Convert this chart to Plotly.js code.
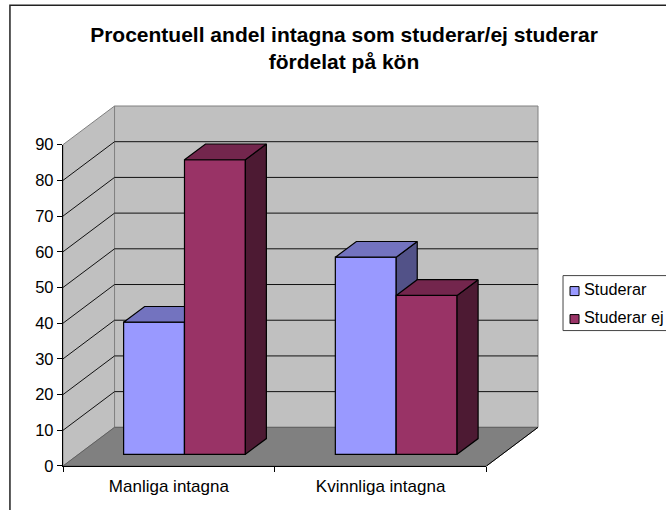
<!DOCTYPE html>
<html>
<head>
<meta charset="utf-8">
<script src="https://cdn.plot.ly/plotly-3.0.1.min.js"></script>
<style>html,body{margin:0;padding:0;background:#fff}#chart{width:666px;height:510px}</style>
</head>
<body>
<div id="chart"></div>
<script>
// Data
const categories = ['Manliga intagna', 'Kvinnliga intagna'];
const studerar = [37, 55.2];
const studerarEj = [82.5, 44.5];
const yTicks = [0, 10, 20, 30, 40, 50, 60, 70, 80, 90];
const seriesNames = ['Studerar', 'Studerar ej'];

// Colours
const frontColors = ['#9999FF', '#993366'];
const topColors = ['#7373BF', '#73264D'];
const sideColors = ['#525288', '#4D1A33'];
const wallColor = '#C0C0C0';
const floorColor = '#808080';
const font = 'Liberation Sans, Arial, sans-serif';

// Oblique projection, expressed in axis units
const wallDx = 0.2435, wallDy = 10.83;
const barDepthDx = 0.0993, barDepthDy = 4.4;
const barShiftDx = 0.0738, barBase = 3.28;
const barWidth = 0.2875;
const xMin = -0.5, xMax = 1.5, yMax = 90;
const idx = categories.map((_, i) => i);

// Page geometry of the front plane
const frontL = 63, frontR = 486, frontB = 466, frontT = 144.5;
const pxPerX = (frontR - frontL) / (xMax - xMin), pxPerY = (frontB - frontT) / yMax;
const pad = 2; // px of room so the edge lines of the walls are not clipped
const rangeX = [xMin - pad / pxPerX, xMax + wallDx + pad / pxPerX];
const rangeY = [-pad / pxPerY, yMax + wallDy + pad / pxPerY];
const plotL = frontL - pad, plotW = (rangeX[1] - rangeX[0]) * pxPerX;
const plotB = frontB + pad, plotH = (rangeY[1] - rangeY[0]) * pxPerY;
const W = 666, H = 510;
const px = v => (v - plotL) / plotW;
const py = v => (plotB - v) / plotH;

function poly(xs, ys, fill, line, xa, ya, width) {
  return {type: 'scatter', mode: 'lines', x: xs, y: ys, fill: 'toself', fillcolor: fill,
    line: {color: line, width: width || 1}, showlegend: false, hoverinfo: 'skip',
    xaxis: xa, yaxis: ya};
}

const traces = [];
// Side wall, back wall
traces.push(poly([xMin, xMin + wallDx, xMin + wallDx, xMin, xMin],
  [0, wallDy, yMax + wallDy, yMax, 0], wallColor, '#808080', 'x', 'y'));
traces.push(poly([xMin + wallDx, xMax + wallDx, xMax + wallDx, xMin + wallDx, xMin + wallDx],
  [wallDy, wallDy, yMax + wallDy, yMax + wallDy, wallDy], wallColor, '#808080', 'x', 'y'));
// Gridlines
const gx = [], gy = [];
yTicks.filter(t => t > 0 && t < yMax).forEach(t => {
  gx.push(xMin, xMin + wallDx, xMax + wallDx, null);
  gy.push(t, t + wallDy, t + wallDy, null);
});
traces.push({type: 'scatter', mode: 'lines', x: gx, y: gy, line: {color: '#111111', width: 1},
  showlegend: false, hoverinfo: 'skip', xaxis: 'x', yaxis: 'y'});
// Floor
traces.push(poly([xMin, xMax, xMax + wallDx, xMin + wallDx, xMin],
  [0, 0, wallDy, wallDy, 0], floorColor, '#606060', 'x', 'y'));
traces.push({type: 'scatter', mode: 'lines', x: [xMax, xMax + wallDx], y: [0, wallDy],
  line: {color: '#000000', width: 1}, showlegend: false, hoverinfo: 'skip', xaxis: 'x', yaxis: 'y'});

// Bars: each series on its own overlaid axes so it stacks over the previous one
[studerar, studerarEj].forEach((vals, s) => {
  const xa = 'x' + (s + 2), ya = 'y' + (s + 2);
  const off = s === 0 ? barShiftDx - barWidth : barShiftDx;
  traces.push({type: 'bar', name: seriesNames[s], x: idx, y: vals,
    base: vals.map(() => barBase), width: barWidth, offset: off,
    marker: {color: frontColors[s], line: {color: '#000000', width: 1.2}},
    showlegend: false, xaxis: xa, yaxis: ya});
  vals.forEach((v, i) => {
    const l = i + off, r = l + barWidth, t = barBase + v;
    traces.push(poly([r, r + barDepthDx, r + barDepthDx, r, r],
      [barBase, barBase + barDepthDy, t + barDepthDy, t, barBase], sideColors[s], '#000000', xa, ya, 1.2));
    traces.push(poly([l, r, r + barDepthDx, l + barDepthDx, l],
      [t, t, t + barDepthDy, t + barDepthDy, t], topColors[s], '#000000', xa, ya, 1.2));
  });
});

// The visible axes live on the front plane only
traces.push({type: 'scatter', mode: 'none', x: categories, y: categories.map(() => 0),
  showlegend: false, hoverinfo: 'skip', xaxis: 'x4', yaxis: 'y4'});

const hiddenX = {range: rangeX, overlaying: 'x', visible: false, fixedrange: true};
const hiddenY = {range: rangeY, overlaying: 'y', visible: false, fixedrange: true};

const layout = {
  width: W, height: H, autosize: false,
  paper_bgcolor: '#FFFFFF', plot_bgcolor: 'rgba(0,0,0,0)',
  showlegend: false, barmode: 'overlay', hovermode: false,
  margin: {l: plotL, r: W - plotL - plotW, t: plotB - plotH, b: H - plotB, autoexpand: false},
  font: {family: font, size: 16, color: '#000000'},
  title: {
    text: 'Procentuell andel intagna som studerar/ej studerar<br>fördelat på kön',
    font: {family: font, size: 21, weight: 'bold', color: '#000000'},
    x: 344 / W, xref: 'container', xanchor: 'center',
    y: 1 - 41.5 / H, yref: 'container', yanchor: 'top'
  },
  xaxis: {range: rangeX, domain: [0, 1], visible: false, fixedrange: true},
  yaxis: {range: rangeY, domain: [0, 1], visible: false, fixedrange: true},
  xaxis2: hiddenX, yaxis2: hiddenY, xaxis3: hiddenX, yaxis3: hiddenY,
  xaxis4: {
    type: 'category', categoryorder: 'array', categoryarray: categories, range: [xMin, xMax],
    domain: [px(frontL), px(frontR)], anchor: 'y4', tickson: 'boundaries',
    ticks: 'outside', ticklen: 5, tickwidth: 1, tickcolor: '#000000',
    showline: true, linecolor: '#000000', linewidth: 1.2, showgrid: false, zeroline: false, fixedrange: true,
    tickfont: {family: font, size: 17, color: '#000000'}, ticklabelstandoff: 4
  },
  yaxis4: {
    range: [0, yMax], domain: [py(frontB), py(frontT)], anchor: 'x4',
    tickmode: 'array', tickvals: yTicks, ticktext: yTicks.map(String),
    ticks: 'outside', ticklen: 5, tickwidth: 1, tickcolor: '#000000',
    showline: true, linecolor: '#000000', linewidth: 1.2, showgrid: false, zeroline: false, fixedrange: true,
    tickfont: {family: font, size: 16.5, color: '#000000'}
  },
  shapes: [
    // Figure frame (top and left edges)
    {type: 'path', xref: 'paper', yref: 'paper',
      path: 'M ' + px(10) + ' ' + py(512) + ' L ' + px(10) + ' ' + py(5) + ' L ' + px(668) + ' ' + py(5),
      line: {color: '#222222', width: 1.5}},
    // Legend box
    {type: 'rect', xref: 'paper', yref: 'paper',
      x0: px(562.5), x1: px(670), y0: py(330.5), y1: py(275.5),
      fillcolor: '#FFFFFF', line: {color: '#444444', width: 1}},
    {type: 'rect', xref: 'paper', yref: 'paper',
      x0: px(569.5), x1: px(578.5), y0: py(295.5), y1: py(286.5),
      fillcolor: frontColors[0], line: {color: '#000000', width: 1}},
    {type: 'rect', xref: 'paper', yref: 'paper',
      x0: px(569.5), x1: px(578.5), y0: py(323.5), y1: py(314.5),
      fillcolor: frontColors[1], line: {color: '#000000', width: 1}}
  ],
  annotations: seriesNames.map((n, i) => ({
    text: n, showarrow: false, xref: 'paper', yref: 'paper', xanchor: 'left', yanchor: 'middle',
    x: px(581.5), y: py(289 + i * 28),
    font: {family: font, size: 16.3, color: '#000000'}
  }))
};

Plotly.newPlot('chart', traces, layout, {displayModeBar: false, staticPlot: true});
</script>
</body>
</html>
